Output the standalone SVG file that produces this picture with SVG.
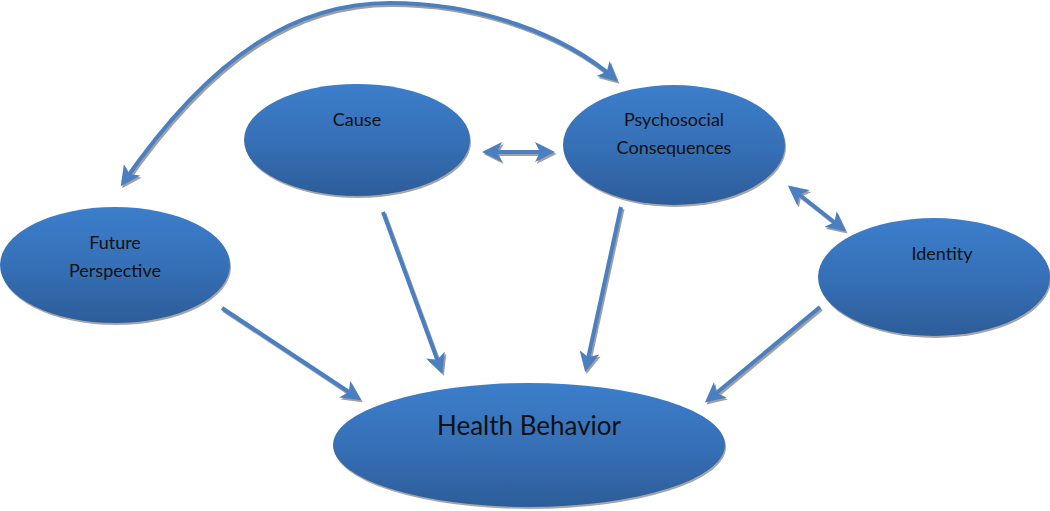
<svg xmlns="http://www.w3.org/2000/svg" width="1050" height="511" viewBox="0 0 1050 511">
<defs>
<linearGradient id="g" x1="0" y1="0" x2="0" y2="1">
<stop offset="0" stop-color="#3c7ecb"/>
<stop offset="0.5" stop-color="#3670b7"/>
<stop offset="1" stop-color="#2d5d9a"/>
</linearGradient>
<marker id="ah" viewBox="0 0 10 10" refX="8" refY="5" markerWidth="5" markerHeight="5" orient="auto-start-reverse" markerUnits="strokeWidth">
<path d="M0,0 L10,5 L0,10 L2.5,5 Z" fill="#4a80c2"/>
</marker>
<marker id="ahs" viewBox="0 0 10 10" refX="8" refY="5" markerWidth="5" markerHeight="5" orient="auto-start-reverse" markerUnits="strokeWidth">
<path d="M0,0 L10,5 L0,10 L2.5,5 Z" fill="#a0a0a0"/>
</marker>
</defs>
<style>
.sh{fill:#a6a6a6}
.el{fill:url(#g)}
.t{font-family:Lato,"Open Sans","Liberation Sans",sans-serif;font-size:18px;fill:#111;text-anchor:middle}
.c{fill:none;stroke:#4a80c2;stroke-width:4}
.cs{fill:none;stroke:#a0a0a0;stroke-width:4}
</style>
<g id="connectors">
<g transform="translate(1.5,2)">
<path class="cs" d="M383,212 L441,370" marker-end="url(#ahs)"/>
<path class="cs" d="M621,207 L586,368" marker-end="url(#ahs)"/>
<path class="cs" d="M222,308 L358,398" marker-end="url(#ahs)"/>
<path class="cs" d="M820,307 L708,400" marker-end="url(#ahs)"/>
<path class="cs" d="M486,152 L551,152" marker-start="url(#ahs)" marker-end="url(#ahs)"/>
<path class="cs" d="M791,188 L843,229" marker-start="url(#ahs)" marker-end="url(#ahs)"/>
<path class="cs" d="M123,183 C215,50 300,3 390,3 C480,3 565,35 615,79" marker-start="url(#ahs)" marker-end="url(#ahs)"/>
</g>
<path class="c" d="M383,212 L441,370" marker-end="url(#ah)"/>
<path class="c" d="M621,207 L586,368" marker-end="url(#ah)"/>
<path class="c" d="M222,308 L358,398" marker-end="url(#ah)"/>
<path class="c" d="M820,307 L708,400" marker-end="url(#ah)"/>
<path class="c" d="M486,152 L551,152" marker-start="url(#ah)" marker-end="url(#ah)"/>
<path class="c" d="M791,188 L843,229" marker-start="url(#ah)" marker-end="url(#ah)"/>
<path class="c" d="M123,183 C215,50 300,3 390,3 C480,3 565,35 615,79" marker-start="url(#ah)" marker-end="url(#ah)"/>
</g>
<g id="cause">
<ellipse class="sh" cx="358" cy="142" rx="113" ry="56"/>
<ellipse class="el" cx="357" cy="140" rx="113" ry="56"/>
<text class="t" x="357" y="126">Cause</text>
</g>
<g id="psychosocial">
<ellipse class="sh" cx="675" cy="147" rx="111" ry="60"/>
<ellipse class="el" cx="674" cy="145" rx="111" ry="60"/>
<text class="t" x="674" y="126">Psychosocial</text>
<text class="t" x="674" y="154">Consequences</text>
</g>
<g id="future">
<ellipse class="sh" cx="116" cy="267" rx="115" ry="58"/>
<ellipse class="el" cx="115" cy="265" rx="115" ry="58"/>
<text class="t" x="115" y="249">Future</text>
<text class="t" x="115" y="277">Perspective</text>
</g>
<g id="identity">
<ellipse class="sh" cx="935" cy="279" rx="116" ry="59"/>
<ellipse class="el" cx="934" cy="277" rx="116" ry="59"/>
<text class="t" x="942" y="260">Identity</text>
</g>
<g id="health">
<ellipse class="sh" cx="530" cy="447" rx="196" ry="62"/>
<ellipse class="el" cx="529" cy="445" rx="196" ry="62"/>
<text class="t" x="529" y="435" style="font-size:26px">Health Behavior</text>
</g>
</svg>
